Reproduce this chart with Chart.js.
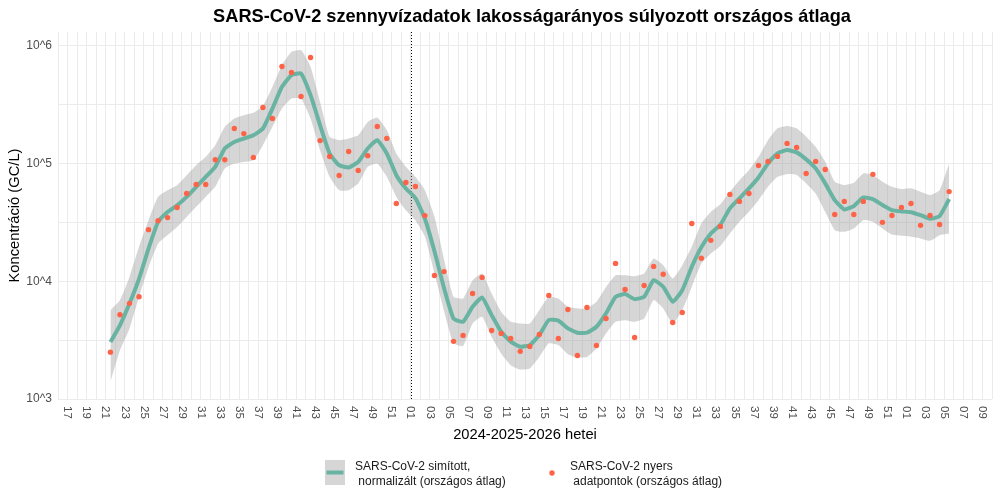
<!DOCTYPE html>
<html>
<head>
<meta charset="utf-8">
<script src="https://cdn.jsdelivr.net/npm/chart.js@4.4.0/dist/chart.umd.min.js"></script>
<style>
  html, body { margin: 0; padding: 0; background: #fff; }
</style>
</head>
<body>
<canvas id="chart" width="1000" height="500"></canvas>
<script>
// sampling weeks (year-week)
const sampleWeeks = [
  '2024-21','2024-22','2024-23','2024-24','2024-25','2024-26','2024-27','2024-28','2024-29','2024-30',
  '2024-31','2024-32','2024-33','2024-34','2024-35','2024-36','2024-37','2024-38','2024-39','2024-40',
  '2024-41','2024-42','2024-43','2024-44','2024-45','2024-46','2024-47','2024-48','2024-49','2024-50',
  '2024-51','2024-52',
  '2025-01','2025-02','2025-03','2025-04','2025-05','2025-06','2025-07','2025-08','2025-09','2025-10',
  '2025-11','2025-12','2025-13','2025-14','2025-15','2025-16','2025-17','2025-18','2025-19','2025-20',
  '2025-21','2025-22','2025-23','2025-24','2025-25','2025-26','2025-27','2025-28','2025-29','2025-30',
  '2025-31','2025-32','2025-33','2025-34','2025-35','2025-36','2025-37','2025-38','2025-39','2025-40',
  '2025-41','2025-42','2025-43','2025-44','2025-45','2025-46','2025-47','2025-48','2025-49','2025-50',
  '2025-51','2025-52',
  '2026-01','2026-02','2026-03','2026-04','2026-05'
];

// raw national average (GC/L)
const rawValues = [
  2500, 5200, 6500, 7400, 27500, 32800, 34800, 42400, 55700, 66500,
  66500, 108000, 108000, 199000, 180000, 113000, 300000, 242000, 670000, 596000,
  372000, 798000, 157000, 115000, 79300, 127000, 87400, 117000, 207000, 164000,
  45800, 69100,
  63900, 36200, 11200, 12100, 3090, 3470, 7890, 10800, 3820, 3610,
  3270, 2540, 2790, 3530, 7590, 3270, 5770, 2340, 6000, 2850,
  4830, 14200, 8530, 3330, 9230, 13400, 11500, 4470, 5430, 31000,
  15700, 22300, 29300, 54800, 47800, 55800, 96600, 104500, 115300, 148600,
  137400, 82600, 104500, 89300, 37000, 47800, 37000, 47800, 81100, 31700,
  36300, 42500,
  45900, 29900, 36300, 30400, 57900
];

// smoothed, normalized national average
const smoothValues = [
  3050, 4230, 6470, 10500, 19000, 32000, 38900, 44300, 52200, 63500,
  77200, 93900, 134500, 153000, 163600, 174600, 199000, 294000, 450000, 565000,
  583000, 382000, 212000, 122000, 97000, 92700, 103500, 134500, 158500, 122000,
  79800, 61500,
  51000, 34000, 18000, 8800, 4830, 4530, 6070, 7290, 5160, 3730,
  3070, 2780, 2870, 3490, 4690, 4630, 3980, 3660, 3660, 4110,
  5340, 7390, 7790, 7060, 7390, 10240, 8990, 6700, 8410, 13300,
  19500, 25500, 30300, 41700, 50700, 61700, 76400, 100500, 122000, 130500,
  124700, 108700, 91200, 68000, 49000, 40800, 43600, 51600, 50000, 44500,
  40300, 39300,
  38700, 36500, 34000, 35800, 50000
];

const smoothLower = [
  1400, 2590, 3960, 7360, 13200, 20900, 24700, 29000, 35300, 43000,
  52200, 63500, 91000, 100200, 103500, 106900, 143500, 205600, 294400, 358100,
  358100, 242100, 130300, 77300, 59400, 59400, 67800, 94000, 100200, 77300,
  52200, 40200,
  33000, 23900, 11750, 5620, 2970, 2820, 4390, 4990, 3370, 2440,
  1940, 1780, 1820, 2280, 2970, 2870, 2400, 2250, 2280, 2690,
  3610, 4530, 4680, 4530, 4830, 6920, 5880, 4380, 5690, 8970,
  14160, 17220, 19950, 25530, 32140, 38990, 48980, 63680, 77270, 81470,
  79980, 67920, 55850, 38990, 27230, 26360, 28180, 33110, 32140, 28180,
  25000, 24380,
  23930, 23170, 22080, 24660, 25530
];

const smoothUpper = [
  5680, 6900, 10890, 19630, 33040, 52240, 59430, 65610, 79800, 97050,
  114300, 143500, 205600, 242100, 258200, 270400, 308300, 449800, 687100, 893300,
  922600, 665300, 335000, 169000, 158500, 163700, 174600, 226500, 246600, 192800,
  121900, 93970,
  77270, 59430, 35480, 15490, 7380, 7150, 10230, 11670, 7890, 5510,
  4530, 4380, 4380, 5690, 7380, 7150, 6070, 5880, 5880, 6700,
  8970, 11270, 11270, 11070, 11670, 15630, 13710, 10570, 13710, 19630,
  30970, 38990, 45190, 57680, 72440, 88100, 114300, 158500, 199500, 208900,
  199500, 169400, 139300, 103800, 70310, 65770, 68870, 82600, 79980, 70310,
  63680, 60810,
  61660, 57680, 54080, 59570, 100500
];

// x axis labels, every second week from 2024-17 to 2026-09
const tickLabels = [
  '17','19','21','23','25','27','29','31','33','35','37','39','41','43','45','47','49','51',
  '01','03','05','07','09','11','13','15','17','19','21','23','25','27','29','31','33','35',
  '37','39','41','43','45','47','49','51',
  '01','03','05','07','09'
];

const yearOffset = { '2024': -17, '2025': 35, '2026': 87 };
const SAMPLE_OFFSET = 0.5;

function weekIndex(label) {
  const parts = label.split('-');
  return yearOffset[parts[0]] + parseInt(parts[1], 10);
}

const xs = sampleWeeks.map(w => weekIndex(w) + SAMPLE_OFFSET);
const toPoints = vals => vals.map((v, i) => ({ x: xs[i], y: v }));
const newYearIdx = weekIndex('2025-01');

const FONT = '"Liberation Sans", Arial, sans-serif';
const RIBBON = 'rgba(153,153,153,0.4)';
const GREEN = '#69b3a2';
const RED = '#ff6347';

const overlay = {
  id: 'overlay',
  beforeDatasetsDraw(chart) {
    const { ctx, chartArea, scales } = chart;
    const px = Math.round(scales.x.getPixelForValue(newYearIdx)) + 0.5;
    ctx.save();
    ctx.strokeStyle = '#000';
    ctx.lineWidth = 1;
    ctx.setLineDash([1, 2]);
    ctx.beginPath();
    ctx.moveTo(px, chartArea.top);
    ctx.lineTo(px, chartArea.bottom);
    ctx.stroke();
    ctx.restore();
  },
  afterDraw(chart) {
    const { ctx, chartArea, scales } = chart;
    const cx = (chartArea.left + chartArea.right) / 2;
    ctx.save();

    // x tick labels, rotated clockwise
    ctx.font = '11.5px ' + FONT;
    ctx.fillStyle = '#4d4d4d';
    ctx.textAlign = 'left';
    ctx.textBaseline = 'middle';
    scales.x.ticks.forEach(t => {
      if (t.value < 0 || t.value % 2 !== 0) return;
      const label = tickLabels[t.value / 2];
      if (!label) return;
      const px = scales.x.getPixelForValue(t.value);
      ctx.save();
      ctx.translate(px, chartArea.bottom + 7);
      ctx.rotate(Math.PI / 2);
      ctx.fillText(label, 0, 0);
      ctx.restore();
    });

    // title
    ctx.fillStyle = '#000';
    ctx.textAlign = 'center';
    ctx.font = 'bold 18.2px ' + FONT;
    ctx.fillText('SARS-CoV-2 szennyvízadatok lakosságarányos súlyozott országos átlaga', cx + 7, 17);

    // axis titles
    ctx.font = '14.7px ' + FONT;
    ctx.fillText('2024-2025-2026 hetei', cx, 435);
    ctx.save();
    ctx.translate(15, (chartArea.top + chartArea.bottom) / 2);
    ctx.rotate(-Math.PI / 2);
    ctx.fillText('Koncentráció (GC/L)', 0, 0);
    ctx.restore();

    // legend
    const kx = cx - 200;
    ctx.fillStyle = RIBBON;
    ctx.fillRect(kx, 460, 20, 25);
    ctx.strokeStyle = GREEN;
    ctx.lineWidth = 4;
    ctx.beginPath();
    ctx.moveTo(kx + 1.5, 472.5);
    ctx.lineTo(kx + 18.5, 472.5);
    ctx.stroke();

    ctx.fillStyle = RED;
    ctx.beginPath();
    ctx.arc(cx + 27, 473, 2.7, 0, Math.PI * 2);
    ctx.fill();

    ctx.fillStyle = '#1a1a1a';
    ctx.textAlign = 'left';
    ctx.font = '12px ' + FONT;
    ctx.fillText('SARS-CoV-2 simított,', kx + 30, 467);
    ctx.fillText(' normalizált (országos átlag)', kx + 30, 481.5);
    ctx.fillText('SARS-CoV-2 nyers', cx + 45, 467);
    ctx.fillText(' adatpontok (országos átlag)', cx + 45, 481.5);

    ctx.restore();
  }
};

const ctx = document.getElementById('chart').getContext('2d');
const chart = new Chart(ctx, {
  type: 'line',
  data: {
    datasets: [
      {
        label: 'SARS-CoV-2 nyers adatpontok (országos átlag)',
        data: toPoints(rawValues),
        showLine: false,
        pointRadius: 2.7,
        pointBackgroundColor: RED,
        pointBorderWidth: 0,
        order: 0
      },
      {
        label: 'SARS-CoV-2 simított, normalizált (országos átlag)',
        data: toPoints(smoothValues),
        borderColor: GREEN,
        borderWidth: 4,
        pointRadius: 0,
        tension: 0.15,
        fill: false,
        order: 1
      },
      {
        label: 'upper',
        data: toPoints(smoothUpper),
        borderColor: 'rgba(0,0,0,0)',
        backgroundColor: RIBBON,
        pointRadius: 0,
        tension: 0.15,
        fill: '+1',
        order: 2
      },
      {
        label: 'lower',
        data: toPoints(smoothLower),
        borderColor: 'rgba(0,0,0,0)',
        pointRadius: 0,
        tension: 0.15,
        fill: false,
        order: 3
      }
    ]
  },
  options: {
    responsive: false,
    animation: false,
    layout: { padding: { top: 32, right: 8, bottom: 101, left: 0 } },
    plugins: {
      legend: { display: false },
      tooltip: { enabled: false },
      title: { display: false }
    },
    scales: {
      x: {
        type: 'linear',
        min: -1,
        max: 97,
        afterBuildTicks: scale => {
          const ticks = [];
          for (let v = -1; v <= 97; v++) ticks.push({ value: v });
          scale.ticks = ticks;
        },
        afterFit: scale => { scale.height = 0; },
        ticks: { display: false },
        grid: { color: '#ebebeb', lineWidth: 1, drawTicks: false },
        border: { display: false }
      },
      y: {
        type: 'logarithmic',
        min: 1000,
        max: 1315000,
        afterBuildTicks: scale => {
          scale.ticks = [3, 3.5, 4, 4.5, 5, 5.5, 6].map(e => ({ value: Math.pow(10, e) }));
        },
        afterFit: scale => { scale.width = 58; },
        ticks: {
          color: '#4d4d4d',
          font: { size: 12, family: FONT },
          padding: 6,
          callback: value => {
            const e = Math.log10(value);
            return Math.abs(e - Math.round(e)) < 1e-6 ? '10^' + Math.round(e) : '';
          }
        },
        grid: { color: '#ebebeb', lineWidth: 1, drawTicks: false },
        border: { display: false }
      }
    }
  },
  plugins: [overlay]
});
</script>
</body>
</html>
